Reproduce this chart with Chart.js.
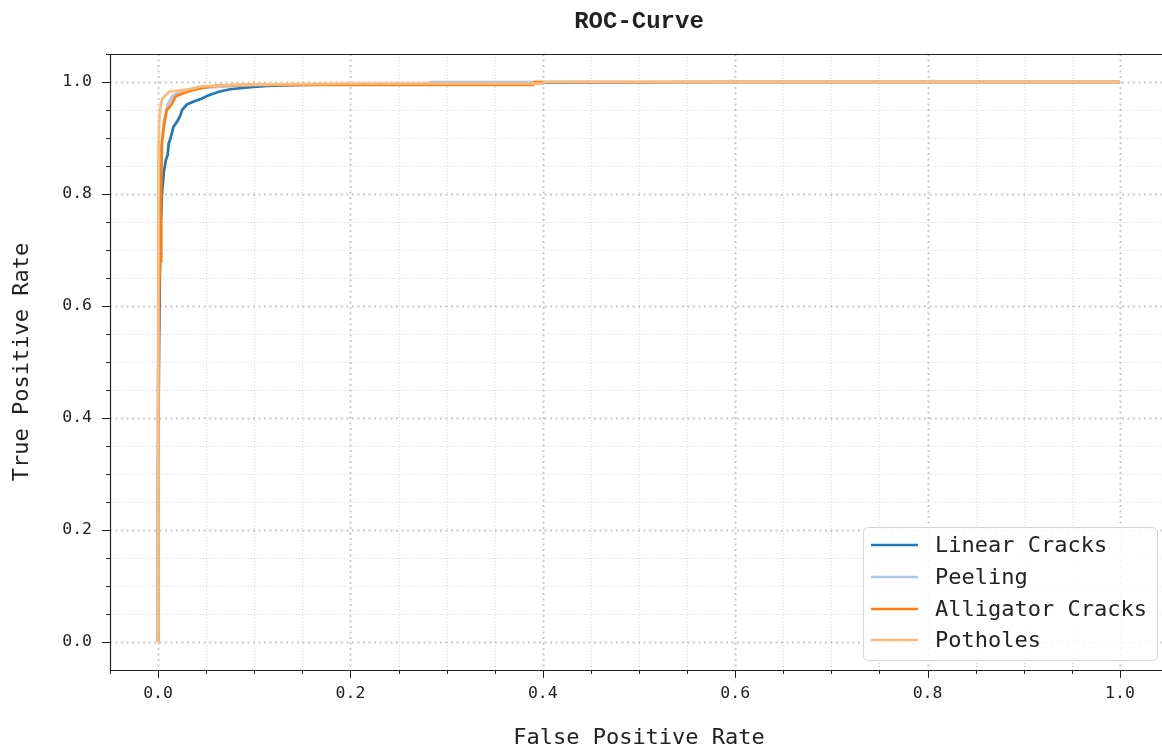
<!DOCTYPE html>
<html>
<head>
<meta charset="utf-8">
<script src="https://cdn.jsdelivr.net/npm/chart.js@4.4.0/dist/chart.umd.min.js"></script>
<style>
  html, body { margin: 0; padding: 0; background: #fff; overflow: hidden; }
  #wrap { width: 1168px; height: 749px; position: relative; overflow: hidden; }
  canvas { display: block; }
</style>
</head>
<body>
<div id="wrap"><canvas id="c" width="1168" height="749" style="width:1168px;height:749px"></canvas></div>
<script>
// ---- Data ----
const seriesNames = ['Linear Cracks', 'Peeling', 'Alligator Cracks', 'Potholes'];
const seriesColors = ['#1f77b4', '#aec7e8', '#ff7f0e', '#ffbb78'];

const fprLinear = [0, 0, 0.001, 0.002, 0.003, 0.004, 0.005, 0.006, 0.008, 0.010, 0.011, 0.013, 0.016, 0.020, 0.023, 0.025, 0.030, 0.037, 0.045, 0.052, 0.064, 0.075, 0.090, 0.113, 0.150, 0.210, 0.300, 0.400, 0.600, 1.0];
const tprLinear = [0, 0.30, 0.52, 0.68, 0.75, 0.80, 0.82, 0.84, 0.86, 0.87, 0.89, 0.90, 0.92, 0.93, 0.94, 0.95, 0.96, 0.965, 0.97, 0.976, 0.983, 0.987, 0.990, 0.993, 0.995, 0.996, 0.998, 0.999, 1.0, 1.0];

const fprPeeling = [0, 0, 0.001, 0.003, 0.006, 0.010, 0.015, 0.025, 0.050, 0.100, 0.280, 0.285, 1.0];
const tprPeeling = [0, 0.60, 0.80, 0.88, 0.93, 0.96, 0.975, 0.985, 0.990, 0.995, 0.998, 1.0, 1.0];

const fprAlligator = [0, 0, 0.001, 0.002, 0.003, 0.004, 0.006, 0.009, 0.014, 0.018, 0.026, 0.035, 0.044, 0.061, 0.100, 0.390, 0.391, 1.0];
const tprAlligator = [0, 0.45, 0.62, 0.68, 0.80, 0.89, 0.92, 0.95, 0.96, 0.974, 0.980, 0.985, 0.989, 0.994, 0.995, 0.995, 1.0, 1.0];

const fprPotholes = [0, 0, 0.0005, 0.001, 0.002, 0.004, 0.007, 0.012, 0.030, 0.044, 0.080, 0.200, 0.400, 0.401, 1.0];
const tprPotholes = [0, 0.55, 0.85, 0.92, 0.95, 0.968, 0.975, 0.983, 0.986, 0.992, 0.995, 0.997, 0.997, 1.0, 1.0];

const xTickLabels = ['0.0', '0.2', '0.4', '0.6', '0.8', '1.0'];
const yTickLabels = ['0.0', '0.2', '0.4', '0.6', '0.8', '1.0'];

const allFpr = [fprLinear, fprPeeling, fprAlligator, fprPotholes];
const allTpr = [tprLinear, tprPeeling, tprAlligator, tprPotholes];

const datasets = seriesNames.map((name, i) => ({
  label: name,
  data: allFpr[i].map((x, k) => ({ x: x, y: allTpr[i][k] })),
  borderColor: seriesColors[i],
  backgroundColor: seriesColors[i],
  borderWidth: 2.7,
  pointRadius: 0,
  tension: 0,
  fill: false,
  order: 4 - i
}));

const MONO = '"DejaVu Sans Mono", monospace';

function isMajor(v) { return Math.abs(v * 5 - Math.round(v * 5)) < 1e-6; }
function minorVals() { const a = []; for (let k = -1; k <= 21; k++) a.push(k * 0.05); return a; }

const gridPlugin = {
  id: 'mplGrid',
  beforeDatasetsDraw(chart) {
    const { ctx, chartArea: ca, scales: { x, y } } = chart;
    ctx.save();
    ctx.beginPath();
    ctx.rect(ca.left, ca.top, ca.right - ca.left, ca.bottom - ca.top);
    ctx.clip();
    const vals = minorVals();
    [false, true].forEach(major => {
      ctx.strokeStyle = major ? 'rgba(0,0,0,0.22)' : 'rgba(0,0,0,0.14)';
      ctx.lineWidth = major ? 2 : 1;
      ctx.setLineDash(major ? [2, 3.5] : [1, 2]);
      vals.forEach(v => {
        if (isMajor(v) !== major) return;
        const px = Math.round(x.getPixelForValue(v)) + 0.5;
        ctx.beginPath(); ctx.moveTo(px, ca.top); ctx.lineTo(px, ca.bottom); ctx.stroke();
        const py = Math.round(y.getPixelForValue(v)) + 0.5;
        ctx.beginPath(); ctx.moveTo(ca.left, py); ctx.lineTo(ca.right, py); ctx.stroke();
      });
    });
    ctx.restore();
  },
  afterDatasetsDraw(chart) {
    const { ctx, chartArea: ca, scales: { x, y } } = chart;
    ctx.save();
    ctx.strokeStyle = '#222';
    ctx.lineWidth = 1.2;
    ctx.setLineDash([]);
    ctx.beginPath();
    ctx.moveTo(ca.left, ca.top + 0.5); ctx.lineTo(ca.right, ca.top + 0.5);
    ctx.moveTo(ca.right - 0.5, ca.top); ctx.lineTo(ca.right - 0.5, ca.bottom);
    ctx.moveTo(ca.left + 0.5, ca.top); ctx.lineTo(ca.left + 0.5, ca.bottom);
    ctx.moveTo(ca.left, ca.bottom + 0.5); ctx.lineTo(ca.right, ca.bottom + 0.5);
    ctx.stroke();
    ctx.lineWidth = 1;
    minorVals().forEach(v => {
      const len = isMajor(v) ? 8 : 4;
      const px = Math.round(x.getPixelForValue(v)) + 0.5;
      if (px >= ca.left && px <= ca.right) {
        ctx.beginPath(); ctx.moveTo(px, ca.bottom); ctx.lineTo(px, ca.bottom + len); ctx.stroke();
      }
      const py = Math.round(y.getPixelForValue(v)) + 0.5;
      if (py >= ca.top && py <= ca.bottom) {
        ctx.beginPath(); ctx.moveTo(ca.left, py); ctx.lineTo(ca.left - len, py); ctx.stroke();
      }
    });
    ctx.restore();
  },
  afterDraw(chart) {
    const { ctx } = chart;
    const bx = 863, by = 527, bw = 294, bh = 133, r = 5;
    ctx.save();
    ctx.fillStyle = 'rgba(255,255,255,0.85)';
    ctx.strokeStyle = '#d6d6d6';
    ctx.lineWidth = 1;
    ctx.beginPath();
    ctx.roundRect(bx + 0.5, by + 0.5, bw, bh, r);
    ctx.fill(); ctx.stroke();
    ctx.font = '22px ' + MONO;
    ctx.textBaseline = 'middle';
    ctx.textAlign = 'left';
    const rows = [545, 577, 609, 640];
    chart.data.datasets.forEach((ds, i) => {
      const yy = rows[i];
      ctx.strokeStyle = ds.borderColor;
      ctx.lineWidth = 2.7;
      ctx.beginPath(); ctx.moveTo(871, yy); ctx.lineTo(918, yy); ctx.stroke();
      ctx.fillStyle = '#222';
      ctx.fillText(ds.label, 935, yy + 1);
    });
    ctx.restore();
  }
};

new Chart(document.getElementById('c'), {
  type: 'line',
  data: { datasets },
  plugins: [gridPlugin],
  options: {
    responsive: false,
    maintainAspectRatio: false,
    animation: false,
    devicePixelRatio: 1,
    layout: { padding: 0 },
    plugins: {
      legend: { display: false },
      tooltip: { enabled: false },
      title: {
        display: true,
        fullSize: false,
        text: 'ROC-Curve',
        color: '#222',
        font: { family: '"Liberation Mono", "Courier New", monospace', size: 24, weight: 'bold', lineHeight: 1.2 },
        padding: { top: 7.6, bottom: 17.6 }
      }
    },
    scales: {
      x: {
        type: 'linear',
        min: -0.05, max: 1.05,
        afterFit(s) { s.height = 79; s.paddingLeft = 0; s.paddingRight = 0; },
        afterBuildTicks(s) { s.ticks = minorVals().map(v => ({ value: v })); },
        grid: { display: false, drawOnChartArea: false, drawTicks: false },
        border: { display: false },
        ticks: {
          autoSkip: false, maxRotation: 0, padding: 14,
          color: '#222',
          font: { family: MONO, size: 16.5 },
          callback: (v) => {
            if (!isMajor(v)) return '';
            const idx = Math.round(v * 5);
            return (idx >= 0 && idx < xTickLabels.length) ? xTickLabels[idx] : '';
          }
        },
        title: {
          display: true, text: 'False Positive Rate', color: '#222',
          font: { family: MONO, size: 22, lineHeight: 1 },
          padding: { top: 0, bottom: 0 }
        }
      },
      y: {
        type: 'linear',
        min: -0.05, max: 1.05,
        afterFit(s) { s.width = 110; s.paddingTop = 0; s.paddingBottom = 0; },
        afterBuildTicks(s) { s.ticks = minorVals().map(v => ({ value: v })); },
        grid: { display: false, drawOnChartArea: false, drawTicks: false },
        border: { display: false },
        ticks: {
          autoSkip: false, padding: 18,
          color: '#222',
          font: { family: MONO, size: 16.5 },
          callback: (v) => {
            if (!isMajor(v)) return '';
            const idx = Math.round(v * 5);
            return (idx >= 0 && idx < yTickLabels.length) ? yTickLabels[idx] : '';
          }
        },
        title: {
          display: true, text: 'True Positive Rate', color: '#222',
          font: { family: MONO, size: 22, lineHeight: 1 },
          padding: { top: 11, bottom: 0 }
        }
      }
    }
  }
});
</script>
</body>
</html>
